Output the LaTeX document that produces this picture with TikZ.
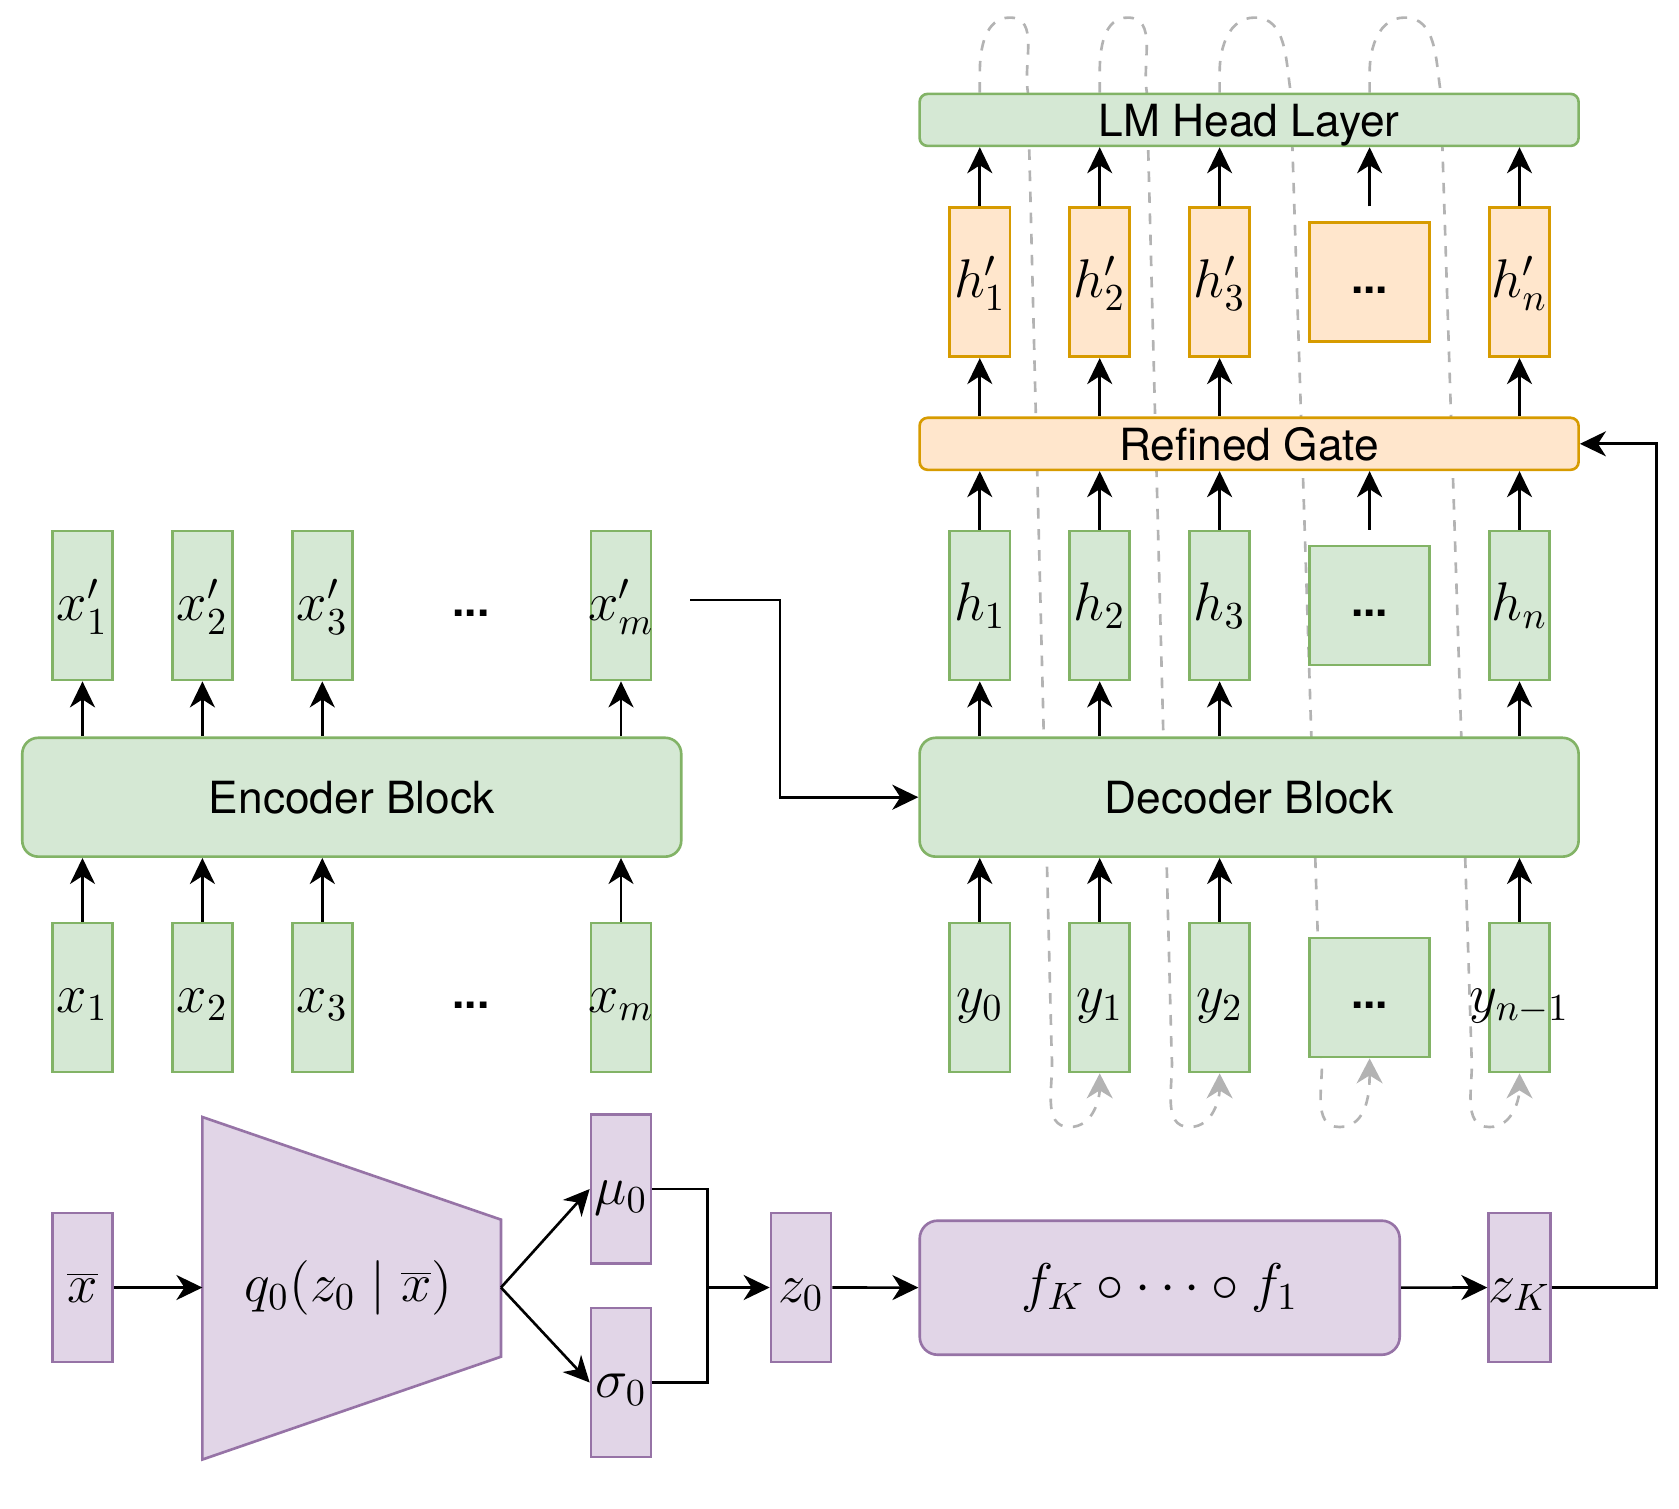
\documentclass[tikz,border=0pt]{standalone}
\usepackage{fix-cm}
\usepackage{fontspec}
\usepackage{xcolor}
\usepackage{tikz}
\usetikzlibrary{arrows.meta,calc}

\newfontfamily\heros{TeX Gyre Heros}

\definecolor{gfill}{HTML}{D5E8D4}
\definecolor{gline}{HTML}{82B366}
\definecolor{ofill}{HTML}{FFE6CC}
\definecolor{oline}{HTML}{D79B00}
\definecolor{pfill}{HTML}{E1D5E7}
\definecolor{pline}{HTML}{9673A6}
\definecolor{fbgray}{HTML}{B3B3B3}

\pgfdeclarelayer{back}
\pgfsetlayers{back,main}

\begin{document}
\begin{tikzpicture}[x=0.01cm,y=-0.01cm,
	vec/.style={draw,line width=0.75pt,inner sep=0pt,minimum width=0.6cm,minimum height=1.49cm,text height=10pt,text depth=1.4pt,font=\fontsize{15.5}{18}\selectfont},
	gvec/.style={vec,draw=gline,fill=gfill},
	ovec/.style={vec,draw=oline,fill=ofill},
	pvec/.style={vec,draw=pline,fill=pfill},
	dotlbl/.style={inner sep=0pt,text height=8pt,text depth=1.8pt,font=\heros\bfseries\fontsize{12.6}{15}\selectfont},
	dotbox/.style={minimum width=1.2cm,minimum height=1.19cm,dotlbl},
	block/.style={draw=gline,fill=gfill,line width=0.75pt,rounded corners=0.16cm,minimum width=6.586cm,minimum height=1.188cm,text depth=0pt,font=\heros\fontsize{12.6}{15}\selectfont},
	bar/.style={line width=0.75pt,rounded corners=0.08cm,minimum width=6.586cm,minimum height=0.52cm,inner sep=0pt,text depth=0pt,font=\heros\fontsize{12.6}{15}\selectfont},
	arr/.style={line width=0.75pt,-{Stealth[length=0.26cm,width=0.25cm,inset=0.08cm]}},
	fb/.style={draw=fbgray,line width=0.75pt,dash pattern=on 3pt off 3pt,-{Stealth[length=0.25cm,width=0.26cm,inset=0.08cm,fill=fbgray]}}]

	\useasboundingbox (0,0) rectangle (1679,1508);

	\foreach \i/\x in {1/82.5,2/202.4,3/322.3} {
		\node[gvec] (xp\i) at (\x,605.5) {$x'_\i$};
		\node[gvec] (x\i) at (\x,997.5) {$x_\i$};
	}
	\node[gvec] (xpm) at (621,605.5) {\makebox[0pt]{$x'_m$}};
	\node[gvec] (xm) at (621,997.5) {\makebox[0pt]{$x_m$}};
	\node[dotlbl] (xpd) at (471,605.5) {...};
	\node[dotlbl] (xd) at (471,997.5) {...};
	\node[block] (enc) at (351.75,797.2) {Encoder Block};

	\foreach \i/\x in {1/979.8,2/1099.7,3/1219.6} {
		\node[ovec] (hp\i) at (\x,282.2) {$h'_\i$};
		\node[gvec] (h\i) at (\x,605.5) {$h_\i$};
	}
	\foreach \i/\x in {0/979.8,1/1099.7,2/1219.6} \node[gvec] (y\i) at (\x,997.5) {$y_\i$};
	\node[ovec,dotbox] (hpd) at (1369.6,282.2) {...};
	\node[gvec,dotbox] (hd) at (1369.6,605.5) {...};
	\node[gvec,dotbox] (yd) at (1369.6,997.5) {...};
	\node[ovec] (hpn) at (1519.5,282.2) {$h'_n$};
	\node[gvec] (hn) at (1519.5,605.5) {$h_n$};
	\node[gvec] (yn) at (1519.5,997.5) {\makebox[0pt]{$y_{n-1}$}};
	\node[block] (dec) at (1249.1,797.2) {Decoder Block};
	\node[bar,draw=gline,fill=gfill] (lm) at (1249.1,119.9) {LM Head Layer};
	\node[bar,draw=oline,fill=ofill] (gate) at (1249.1,443.8) {Refined Gate};

	\node[pvec] (xbar) at (82.5,1287.5) {$\overline{x}$};
	\draw[draw=pline,fill=pfill,line width=0.75pt] (202.4,1117) -- (501,1219.6) -- (501,1356.7) -- (202.4,1459.5) -- cycle;
	\coordinate (qin) at (202.4,1287.5);
	\coordinate (qout) at (501,1287.5);
	\node[font=\fontsize{15.5}{18}\selectfont] (q) at (348.5,1288) {$q_0(z_0\mid\overline{x})$};
	\node[pvec] (mu) at (621,1189) {$\mu_0$};
	\node[pvec] (sig) at (621,1382.5) {$\sigma_0$};
	\coordinate (jn) at (707.8,1287.5);
	\node[pvec] (z0) at (801,1287.5) {$z_0$};
	\node[draw=pline,fill=pfill,line width=0.75pt,rounded corners=0.18cm,minimum width=4.797cm,minimum height=1.34cm,font=\fontsize{15.5}{18}\selectfont] (flow) at (1159.7,1287.7) {$f_K\circ\cdots\circ f_1$};
	\node[pvec] (zK) at (1519.5,1287.5) {$z_K$};

	\coordinate (xmout) at (690,600);
	\coordinate (fbbase) at (0,1127);

	\begin{pgfonlayer}{back}
		\foreach \s/\t/\p/\w in {hp1/y1/30/48,hp2/y2/28/47,hp3/yd/35/71,hpd/yn/35/71}
			\draw[fb] (\s |- lm.north) -- ++(0,-20) to[out=90,in=180] ++(\p,-55) to[out=0,in=99] ++({\w-\p},74) -- ($(\t.south |- fbbase)+(-48,-72)$) to[out=-85,in=180] ($(\t.south |- fbbase)+(-30,0)$) to[out=0,in=-90] (\t.south);
	\end{pgfonlayer}

	\foreach \c in {1,2,3,m} {
		\draw[arr] (x\c.north) -- (x\c.north |- enc.south);
		\draw[arr] (xp\c.south |- enc.north) -- (xp\c.south);
	}
	\foreach \c in {0,1,2,n} \draw[arr] (y\c.north) -- (y\c.north |- dec.south);
	\foreach \c in {1,2,3,n} {
		\draw[arr] (h\c.south |- dec.north) -- (h\c.south);
		\draw[arr] (h\c.north) -- (h\c.north |- gate.south);
		\draw[arr] (hp\c.south |- gate.north) -- (hp\c.south);
		\draw[arr] (hp\c.north) -- (hp\c.north |- lm.south);
	}
	\draw[arr] (hd |- h1.north) -- (hd |- gate.south);
	\draw[arr] (hpd |- hp1.north) -- (hpd |- lm.south);

	\draw[arr] (xmout) -- ++(90,0) |- (dec.west);
	\draw[arr] (xbar) -- (qin);
	\draw[arr] (qout) -- (mu.west);
	\draw[arr] (qout) -- (sig.west);
	\draw[line width=0.75pt] (mu.east) -| (jn) |- (sig.east);
	\draw[arr] (jn) -- (z0);
	\draw[arr] (z0) -- (flow);
	\draw[arr] (flow) -- (zK);
	\draw[arr] (zK.east) -- ++(105,0) |- (gate.east);

\end{tikzpicture}
\end{document}
